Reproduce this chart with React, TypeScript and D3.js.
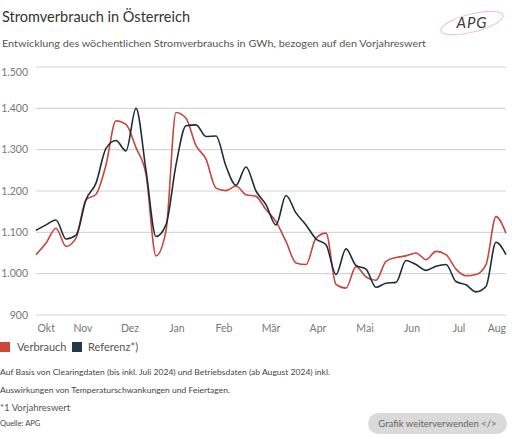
import * as d3 from "d3";
import { useEffect, useRef } from "react";

const width = 512;
const height = 439;

// weekly values in GWh, Okt 2023 .. Aug 2024
const verbrauch = [
  1046, 1074, 1110, 1066, 1086, 1179, 1192, 1263, 1370, 1361, 1305, 1240,
  1043, 1104, 1390, 1376, 1310, 1277, 1207, 1201, 1212, 1191, 1187, 1155,
  1126, 1078, 1026, 1022, 1086, 1098, 974, 965, 1017, 992, 984, 1030, 1039,
  1043, 1050, 1034, 1054, 1046, 1011, 995, 998, 1022, 1138, 1098,
];
const referenz = [
  1105, 1118, 1130, 1084, 1093, 1179, 1219, 1303, 1322, 1297, 1400, 1250,
  1090, 1118, 1263, 1358, 1360, 1332, 1333, 1260, 1214, 1258, 1200, 1167,
  1118, 1189, 1147, 1118, 1084, 1070, 998, 1060, 1020, 1011, 967, 977, 979,
  1032, 1022, 1008, 1018, 1022, 981, 973, 956, 969, 1076, 1046,
];
const monthLabels = ["Okt", "Nov", "Dez", "Jan", "Feb", "Mär", "Apr", "Mai", "Jun", "Jul", "Aug"];
const yTicks = [900, 1000, 1100, 1200, 1300, 1400, 1500];

const red = "#c5473d";
const navy = "#1f2d3a";
const font = "Lato, 'Open Sans', sans-serif";

const App = () => {
  const ref = useRef<SVGSVGElement>(null);

  useEffect(() => {
    const svg = d3.select(ref.current);
    svg.selectAll("*").remove();

    const x = d3.scaleLinear().domain([0, verbrauch.length - 1]).range([36, 506]);
    const y = d3.scaleLinear().domain([900, 1500]).range([315, 67]);
    const fmt = d3.formatLocale({ decimal: ",", thousands: ".", grouping: [3], currency: ["", "€"] }).format(",");

    // title
    svg.append("text").attr("x", 2).attr("y", 22).attr("font-size", 15).attr("fill", "#333")
      .attr("textLength", 188).attr("lengthAdjust", "spacingAndGlyphs")
      .text("Stromverbrauch in Österreich");
    svg.append("text").attr("x", 2).attr("y", 47).attr("font-size", 10.2).attr("fill", "#555")
      .attr("textLength", 424).attr("lengthAdjust", "spacingAndGlyphs")
      .text("Entwicklung des wöchentlichen Stromverbrauchs in GWh, bezogen auf den Vorjahreswert");

    // logo
    const logo = svg.append("g");
    logo.append("ellipse").attr("cx", 472).attr("cy", 23).attr("rx", 32).attr("ry", 9)
      .attr("transform", "rotate(-14 472 23)").attr("fill", "none")
      .attr("stroke", "#ecc9c9").attr("stroke-width", 1.2);
    logo.append("text").attr("x", 472).attr("y", 28).attr("text-anchor", "middle")
      .attr("font-size", 15).attr("font-style", "italic").attr("letter-spacing", 1)
      .attr("fill", "#3a3a3a").text("APG");

    // grid + y labels
    const grid = svg.append("g");
    grid.selectAll("line").data(yTicks).join("line")
      .attr("x1", 36).attr("x2", 506)
      .attr("y1", (d) => y(d)).attr("y2", (d) => y(d))
      .attr("stroke", "#d6d6d6").attr("stroke-width", 1.2);
    grid.selectAll("text").data(yTicks).join("text")
      .attr("x", 28).attr("y", (d) => y(d) + (d === 1500 ? 5 : 0))
      .attr("dy", "0.35em").attr("text-anchor", "end")
      .attr("font-size", 10.5).attr("fill", "#777")
      .text((d) => fmt(d));

    // x labels
    const last = verbrauch.length - 1;
    svg.append("g").selectAll("text").data(monthLabels).join("text")
      .attr("x", (d, i) => {
        const px = x((i * last) / (monthLabels.length - 1));
        return i === 0 ? 37.5 : i === monthLabels.length - 1 ? 506 : px;
      })
      .attr("y", 328).attr("dy", "0.35em")
      .attr("text-anchor", (d, i) => (i === 0 ? "start" : i === monthLabels.length - 1 ? "end" : "middle"))
      .attr("font-size", 10.5).attr("fill", "#777")
      .text((d) => d);

    // lines
    const line = d3.line<number>().x((d, i) => x(i)).y((d) => y(d)).curve(d3.curveMonotoneX);
    svg.append("path").datum(verbrauch).attr("d", line).attr("fill", "none")
      .attr("stroke", red).attr("stroke-width", 1.6);
    svg.append("path").datum(referenz).attr("d", line).attr("fill", "none")
      .attr("stroke", navy).attr("stroke-width", 1.6);

    // legend
    const legend = svg.append("g");
    legend.append("rect").attr("x", 0).attr("y", 342).attr("width", 10).attr("height", 10).attr("fill", "#d0463b");
    legend.append("text").attr("x", 17).attr("y", 347).attr("dy", "0.35em").attr("font-size", 11)
      .attr("fill", "#555").text("Verbrauch");
    legend.append("rect").attr("x", 72).attr("y", 342).attr("width", 10).attr("height", 10).attr("fill", "#24384a");
    legend.append("text").attr("x", 88).attr("y", 347).attr("dy", "0.35em").attr("font-size", 11)
      .attr("fill", "#555").text("Referenz*)");

    // notes
    svg.append("text").attr("x", 0).attr("y", 375).attr("font-size", 7.5).attr("fill", "#444")
      .attr("textLength", 330).attr("lengthAdjust", "spacingAndGlyphs")
      .text("Auf Basis von Clearingdaten (bis inkl. Juli 2024) und Betriebsdaten (ab August 2024) inkl.");
    svg.append("text").attr("x", 0).attr("y", 393).attr("font-size", 7.5).attr("fill", "#444")
      .attr("textLength", 230).attr("lengthAdjust", "spacingAndGlyphs")
      .text("Auswirkungen von Temperaturschwankungen und Feiertagen.");
    svg.append("text").attr("x", 0).attr("y", 411).attr("font-size", 9.5).attr("fill", "#555")
      .text("*1 Vorjahreswert");
    svg.append("text").attr("x", 0).attr("y", 426).attr("font-size", 7.5).attr("fill", "#444")
      .text("Quelle: APG");

    // button
    svg.append("rect").attr("x", 368).attr("y", 413).attr("width", 139).attr("height", 21)
      .attr("rx", 10.5).attr("fill", "#dadada");
    svg.append("text").attr("x", 437.5).attr("y", 423.5).attr("dy", "0.35em").attr("text-anchor", "middle")
      .attr("font-size", 9.5).attr("fill", "#666").text("Grafik weiterverwenden </>");
  }, []);

  return (
    <svg
      ref={ref}
      width={width}
      height={height}
      style={{ position: "absolute", left: 0, top: 0, background: "#fff", fontFamily: font }}
    />
  );
};

export default App;
